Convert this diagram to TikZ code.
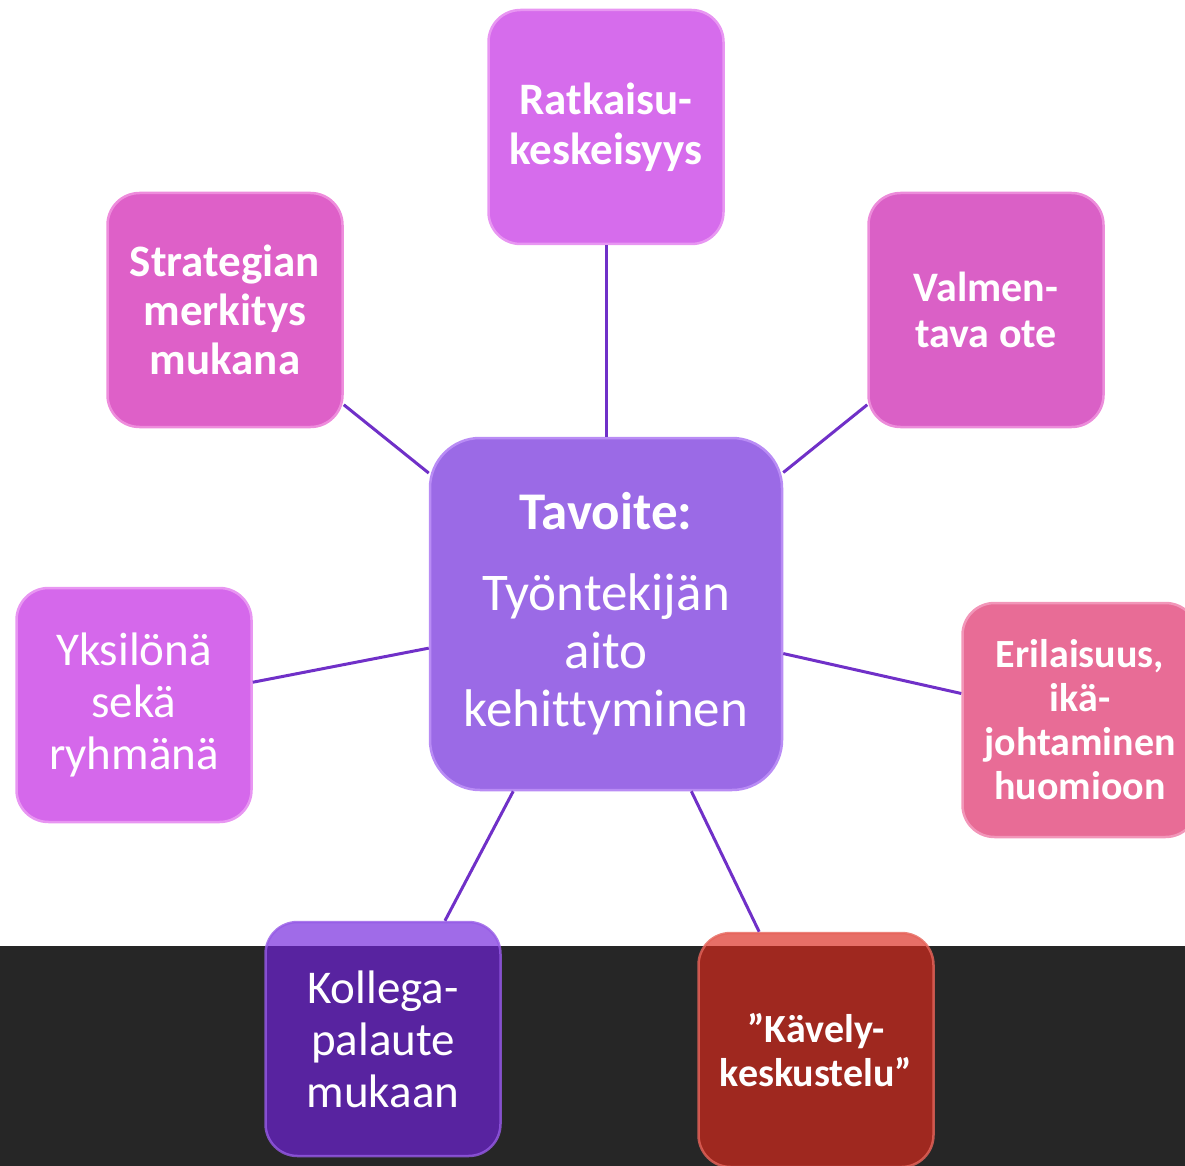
\documentclass[tikz,border=0pt]{standalone}
\usepackage{fontspec}
\setmainfont{Carlito}[Ligatures=NoCommon]
\definecolor{bandc}{RGB}{38,38,38}
\definecolor{linec}{RGB}{112,48,200}
\definecolor{cRat}{RGB}{214,108,236}
\definecolor{cRatB}{RGB}{232,150,242}
\definecolor{cStr}{RGB}{222,96,200}
\definecolor{cStrB}{RGB}{238,140,220}
\definecolor{cVal}{RGB}{218,96,198}
\definecolor{cValB}{RGB}{236,140,218}
\definecolor{cCen}{RGB}{155,106,230}
\definecolor{cCenB}{RGB}{185,140,245}
\definecolor{cYks}{RGB}{213,104,235}
\definecolor{cYksB}{RGB}{232,150,242}
\definecolor{cEri}{RGB}{232,108,150}
\definecolor{cEriB}{RGB}{242,150,185}
\definecolor{cKol}{RGB}{113,35,220}
\definecolor{cKolB}{RGB}{150,90,230}
\definecolor{cKav}{RGB}{219,41,29}
\definecolor{cKavB}{RGB}{230,100,90}
\tikzset{
  box/.style={rounded corners=32, minimum width=235, minimum height=234,
    inner sep=0, align=center, text=white, line width=2.5},
  bigbox/.style={rounded corners=50, minimum width=352, minimum height=352,
    inner sep=0, align=center, text=white, line width=2.5},
  link/.style={draw=linec, line width=3},
  seethrough/.style={fill opacity=0.67, text opacity=1, draw opacity=0.8}
}
\begin{document}
\begin{tikzpicture}[x=1pt,y=-1pt]
\useasboundingbox (0,0) rectangle (1185,1166);
\clip (0,0) rectangle (1185,1166);
\fill[bandc] (0,946) rectangle (1185,1166);

\node[bigbox, fill=cCen, draw=cCenB, font=\fontsize{53}{58}\selectfont] (cen) at (606,614)
  {\textbf{Tavoite:}\\[23pt]Työntekijän\\aito\\kehittyminen};

\node[box, fill=cRat, draw=cRatB, font=\fontsize{45}{50}\selectfont\bfseries] (rat) at (606,127)
  {Ratkaisu-\\keskeisyys};
\node[box, fill=cStr, draw=cStrB, font=\fontsize{45}{49}\selectfont\bfseries] (str) at (225,310)
  {Strategian\\merkitys\\mukana};
\node[box, fill=cVal, draw=cValB, font=\fontsize{42}{46}\selectfont\bfseries] (val) at (986,310)
  {Valmen-\\tava ote};
\node[box, fill=cYks, draw=cYksB, font=\fontsize{47}{52}\selectfont] (yks) at (134,705)
  {Yksilönä\\sekä\\ryhmänä};
\node[box, fill=cEri, draw=cEriB, font=\fontsize{40}{44}\selectfont\bfseries] (eri) at (1080,720)
  {Erilaisuus,\\ikä-\\johtaminen\\huomioon};
\node[box, seethrough, fill=cKol, draw=cKolB, font=\fontsize{47}{52}\selectfont] (kol) at (383,1039)
  {Kollega-\\palaute\\mukaan};
\node[box, seethrough, fill=cKav, draw=cKavB, font=\fontsize{40}{44}\selectfont\bfseries] (kav) at (816,1050)
  {”Kävely-\\keskustelu”};

\draw[link] (cen) -- (rat);
\draw[link] (cen) -- (str);
\draw[link] (cen) -- (val);
\draw[link] (cen) -- (yks);
\draw[link] (cen) -- (eri);
\draw[link] (cen) -- (kol);
\draw[link] (cen) -- (kav);
\end{tikzpicture}
\end{document}
